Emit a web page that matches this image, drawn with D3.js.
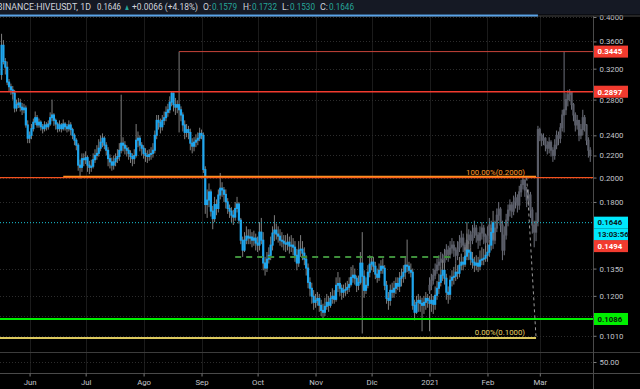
<!DOCTYPE html>
<html><head><meta charset="utf-8">
<script src="https://cdn.jsdelivr.net/npm/d3@7"></script>
<style>
html,body{margin:0;padding:0;background:#000;overflow:hidden;}
svg{display:block;}
text{font-family:Roboto,"Open Sans",sans-serif;}
</style></head><body>
<svg id="c" width="640" height="389"></svg>
<script>
// ---------------- DATA ----------------
const firstDate = "2020-05-17";
const firstOpen = 0.312;
const closes = [
0.354,0.330,0.322,0.302,0.296,0.292,0.288,0.270,0.274,0.276,0.271,0.268,0.270,0.251,0.237,
0.240,0.247,0.254,0.259,0.251,0.254,0.249,0.247,0.251,0.249,0.252,0.259,0.262,0.256,0.252,0.247,0.251,0.247,0.252,0.249,0.247,0.251,0.246,0.240,0.235,0.230,0.211,0.209,0.217,0.216,
0.218,0.211,0.209,0.210,0.216,0.220,0.222,0.227,0.233,0.237,0.230,0.225,0.217,0.214,0.211,0.214,0.217,0.219,0.225,0.232,0.230,0.227,0.225,0.222,0.219,0.217,0.220,0.235,0.237,0.230,0.227,
0.222,0.220,0.219,0.221,0.222,0.225,0.240,0.256,0.254,0.249,0.256,0.259,0.265,0.268,0.277,0.288,0.274,0.271,0.274,0.268,0.262,0.251,0.243,0.246,0.243,0.232,0.229,0.233,0.235,0.237,0.242,
0.240,0.207,0.178,0.1815,0.188,0.173,0.1675,0.178,0.175,0.1855,0.191,0.1895,0.186,0.180,0.175,0.173,0.170,0.1686,0.175,0.1784,0.1664,0.1526,0.1462,0.1526,0.1553,0.154,0.1547,0.1526,0.154,0.1507,
0.1494,0.158,0.1526,0.1383,0.1353,0.1406,0.143,0.1494,0.1574,0.1594,0.1567,0.1553,0.1526,0.152,0.1507,0.15,0.1513,0.1488,0.1494,0.1481,0.143,0.1383,0.1462,0.1468,0.1443,0.1406,0.1353,0.1272,0.124,0.1198,0.1167,
0.1177,0.1187,0.1152,0.1127,0.1118,0.1147,0.1167,0.1152,0.1187,0.1198,0.1182,0.1256,0.1266,0.124,0.1219,0.1229,0.1234,0.1245,0.1261,0.13,0.1312,0.1295,0.1256,0.1272,0.1382,0.1306,0.1229,0.1256,0.1329,0.1376,
0.1388,0.1364,0.1318,0.13,0.134,0.1364,0.1352,0.1256,0.1187,0.1177,0.1229,0.1219,0.124,0.1266,0.1251,0.1295,0.1306,0.1329,0.137,0.1364,0.134,0.1329,0.1152,0.1118,0.1167,0.1177,0.1162,0.1152,0.1167,0.1187,0.1177,
0.1162,0.1177,0.1157,0.1203,0.124,0.1272,0.1312,0.134,0.1295,0.1219,0.1208,0.1284,0.13,0.1306,0.1329,0.1323,0.137,0.1388,0.1376,0.1424,0.1462,0.1449,0.1406,0.1388,0.137,0.1382,0.1364,0.14,0.1406,0.1412,0.143,
0.1449,0.1494,0.1579,0.1646];
const highs = [
0.372,0.362,0.335,0.33,0.306,0.30,0.297,0.292,0.28,0.282,0.281,0.276,0.275,0.273,0.256,
0.244,0.252,0.258,0.266,0.262,0.258,0.256,0.252,0.255,0.254,0.256,0.265,0.28,0.264,0.258,0.254,0.256,0.253,0.257,0.254,0.252,0.256,0.254,0.248,0.242,0.237,0.232,0.216,0.222,0.222,
0.224,0.22,0.215,0.216,0.222,0.226,0.23,0.236,0.24,0.242,0.239,0.233,0.228,0.221,0.218,0.22,0.222,0.226,0.232,0.286,0.238,0.234,0.23,0.228,0.225,0.222,0.226,0.252,0.244,0.24,0.233,
0.23,0.227,0.225,0.226,0.228,0.232,0.245,0.262,0.262,0.258,0.262,0.266,0.272,0.275,0.284,0.2897,0.2885,0.282,0.279,0.3445,0.272,0.265,0.256,0.252,0.25,0.247,0.237,0.238,0.241,0.243,0.248,
0.246,0.243,0.21,0.19,0.195,0.19,0.177,0.184,0.182,0.19,0.204,0.196,0.192,0.19,0.183,0.178,0.176,0.174,0.18,0.184,0.18,0.168,0.155,0.158,0.162,0.16,0.16,0.158,0.159,0.157,
0.155,0.165,0.168,0.158,0.142,0.145,0.148,0.155,0.162,0.17,0.164,0.162,0.16,0.158,0.156,0.156,0.157,0.155,0.156,0.154,0.152,0.147,0.152,0.156,0.152,0.148,0.143,0.138,0.13,0.127,0.123,
0.121,0.122,0.121,0.118,0.116,0.119,0.121,0.12,0.122,0.124,0.123,0.13,0.133,0.13,0.126,0.126,0.127,0.128,0.13,0.136,0.137,0.135,0.131,0.131,0.145,0.158,0.134,0.13,0.137,0.143,
0.142,0.142,0.139,0.135,0.138,0.14,0.141,0.137,0.128,0.122,0.126,0.127,0.128,0.13,0.13,0.133,0.135,0.137,0.142,0.153,0.139,0.138,0.135,0.118,0.12,0.121,0.12,0.119,0.12,0.122,0.121,
0.12,0.121,0.12,0.125,0.128,0.132,0.136,0.14,0.138,0.132,0.125,0.131,0.134,0.136,0.138,0.137,0.142,0.144,0.142,0.148,0.165,0.152,0.148,0.145,0.142,0.143,0.142,0.146,0.148,0.147,0.149,
0.15,0.153,0.161,0.1732];
const lows = [
0.305,0.326,0.312,0.298,0.29,0.286,0.28,0.265,0.266,0.27,0.266,0.262,0.264,0.248,0.232,
0.232,0.236,0.244,0.251,0.248,0.248,0.245,0.242,0.244,0.245,0.246,0.25,0.255,0.25,0.246,0.243,0.244,0.243,0.245,0.245,0.243,0.244,0.24,0.236,0.23,0.225,0.206,0.199,0.205,0.21,
0.212,0.205,0.203,0.205,0.208,0.213,0.216,0.219,0.224,0.228,0.226,0.22,0.21,0.208,0.206,0.207,0.21,0.213,0.215,0.222,0.224,0.221,0.219,0.216,0.213,0.21,0.212,0.218,0.228,0.224,0.22,
0.217,0.214,0.213,0.215,0.216,0.218,0.222,0.236,0.246,0.242,0.245,0.251,0.255,0.26,0.264,0.272,0.266,0.262,0.264,0.243,0.255,0.244,0.236,0.238,0.236,0.225,0.222,0.224,0.228,0.23,0.234,
0.236,0.204,0.171,0.168,0.176,0.169,0.16,0.165,0.17,0.172,0.182,0.184,0.18,0.175,0.171,0.168,0.165,0.163,0.166,0.172,0.164,0.15,0.142,0.145,0.15,0.15,0.15,0.148,0.149,0.146,
0.145,0.146,0.15,0.134,0.131,0.133,0.138,0.14,0.146,0.152,0.153,0.151,0.149,0.148,0.146,0.145,0.146,0.144,0.145,0.143,0.139,0.134,0.136,0.142,0.14,0.137,0.131,0.124,0.12,0.116,0.113,
0.114,0.115,0.112,0.11,0.109,0.11,0.113,0.112,0.114,0.116,0.116,0.117,0.122,0.12,0.118,0.119,0.12,0.121,0.122,0.125,0.127,0.126,0.122,0.123,0.126,0.102,0.119,0.121,0.124,0.13,
0.134,0.133,0.129,0.127,0.128,0.132,0.132,0.123,0.116,0.113,0.115,0.119,0.119,0.121,0.123,0.122,0.125,0.127,0.129,0.133,0.132,0.13,0.113,0.108,0.111,0.112,0.112,0.103,0.111,0.113,0.114,
0.103,0.112,0.111,0.113,0.118,0.121,0.125,0.128,0.126,0.118,0.116,0.118,0.125,0.126,0.128,0.129,0.13,0.134,0.134,0.136,0.14,0.14,0.137,0.135,0.133,0.134,0.133,0.134,0.137,0.137,0.139,
0.139,0.142,0.146,0.153];

// projected (greyed) bars pattern
const ghostStart = "2021-01-01";
const ghostOpen = 0.123;
const ghostCloses = [
0.1256,0.1284,0.1312,0.134,0.137,0.1388,0.1406,0.1388,0.143,0.1462,0.1436,0.1475,0.1494,0.1462,0.143,0.1475,0.1513,0.154,0.1494,0.1462,
0.1526,0.156,0.1526,0.158,0.1608,0.156,0.1526,0.1574,0.1608,0.1553,0.1513,0.156,0.1629,0.1594,0.1526,0.1608,0.17,0.1745,0.1629,0.1462,
0.156,0.1664,0.1738,0.1776,0.173,0.18,0.1832,0.1776,0.188,0.194,0.198,0.1895,0.1815,0.1855,0.1738,0.1629,0.158,0.1655,0.246,0.240,
0.235,0.237,0.230,0.227,0.233,0.225,0.220,0.230,0.240,0.237,0.248,0.262,0.268,0.280,0.286,0.289,0.274,0.262,0.251,0.256,
0.240,0.246,0.259,0.251,0.235,0.225,0.220];
const ghostHighs = [
0.130,0.132,0.135,0.138,0.141,0.143,0.145,0.144,0.147,0.15,0.149,0.152,0.154,0.152,0.148,0.152,0.156,0.159,0.157,0.151,
0.157,0.16,0.159,0.163,0.166,0.163,0.158,0.162,0.165,0.163,0.157,0.162,0.168,0.166,0.16,0.166,0.175,0.18,0.176,0.166,
0.162,0.171,0.178,0.182,0.18,0.185,0.188,0.186,0.193,0.198,0.2,0.198,0.192,0.19,0.188,0.176,0.166,0.172,0.25,0.248,
0.242,0.242,0.238,0.234,0.238,0.235,0.228,0.236,0.245,0.244,0.253,0.268,0.3445,0.288,0.292,0.293,0.29,0.276,0.265,0.262,
0.256,0.252,0.268,0.262,0.252,0.238,0.228];
const ghostLows = [
0.121,0.123,0.126,0.129,0.132,0.134,0.136,0.135,0.137,0.14,0.139,0.141,0.144,0.142,0.138,0.14,0.145,0.148,0.145,0.141,
0.144,0.15,0.148,0.15,0.154,0.151,0.147,0.149,0.153,0.15,0.146,0.148,0.153,0.155,0.147,0.15,0.158,0.166,0.158,0.14,
0.143,0.153,0.162,0.169,0.168,0.17,0.175,0.172,0.174,0.184,0.19,0.184,0.176,0.177,0.168,0.157,0.148,0.152,0.162,0.234,
0.229,0.23,0.224,0.221,0.222,0.219,0.214,0.216,0.226,0.23,0.232,0.244,0.243,0.262,0.272,0.278,0.268,0.255,0.244,0.246,
0.234,0.236,0.24,0.244,0.23,0.218,0.214];

const monthTicks = ["2020-06-01","2020-07-01","2020-08-01","2020-09-01","2020-10-01","2020-11-01","2020-12-01","2021-01-01","2021-02-01","2021-03-01"];
const monthLabels = ["Jun","Jul","Ago","Sep","Oct","Nov","Dic","2021","Feb","Mar"];
const priceTicks = [0.4,0.36,0.32,0.28,0.24,0.22,0.2,0.18,0.135,0.12,0.11,0.101];

// drawings
const levelHigh = 0.3445, levelHighStart = "2020-08-20";
const levelTop = 0.2897;
const levelFib100 = 0.2, levelFib0 = 0.1;
const fib100Start = "2020-06-19", fibEnd = "2021-02-27", fibP1 = "2021-02-22";
const levelTopBlue = 0.402, topBlueEnd = "2021-02-28";
const levelGreen = 0.1086;
const lastPrice = 0.1646, redTag = 0.1494;
const dashLevel = 0.142, dashStart = "2020-09-19", dashEnd = "2021-01-13";

// ---------------- CHART ----------------
const svg = d3.select("#c");
const W = 640, H = 389, AX = 593.5, PANE_TOP = 16, PANE_BOT = 352;
const x = d3.scaleUtc().domain([new Date("2020-06-01"), new Date("2021-03-01")]).range([29.6, 539.8]);
const y = d3.scaleLog().domain([0.1, 0.4]).range([338.1, 17]);
const DAY = 864e5;
const D = s => new Date(s);

function build(start, open0, cl, hi, lo){
  const t0 = Date.parse(start);
  return cl.map((c,i)=>{const o = i ? cl[i-1] : open0;
    return {date:new Date(t0+i*DAY), o, c, h:Math.max(hi[i],o,c), l:Math.min(lo[i],o,c)};});
}
const candles = build(firstDate, firstOpen, closes, highs, lows);
const ghost = build(ghostStart, ghostOpen, ghostCloses, ghostHighs, ghostLows);

svg.append("rect").attr("width",W).attr("height",H).attr("fill","#000");
const defs = svg.append("defs");
defs.append("clipPath").attr("id","pc").append("rect").attr("x",0).attr("y",PANE_TOP).attr("width",AX).attr("height",PANE_BOT-PANE_TOP);

// grid
const grid = svg.append("g");
grid.selectAll("line.v").data(monthTicks).join("line")
  .attr("x1",d=>Math.round(x(D(d)))+0.5).attr("x2",d=>Math.round(x(D(d)))+0.5)
  .attr("y1",PANE_TOP).attr("y2",373).attr("stroke","#1b1b1b").attr("stroke-width",1);
grid.selectAll("line.h").data(priceTicks).join("line")
  .attr("x1",0).attr("x2",AX).attr("y1",d=>Math.round(y(d))+0.5).attr("y2",d=>Math.round(y(d))+0.5)
  .attr("stroke","#2c2c2c").attr("stroke-dasharray","1,2");

const plot = svg.append("g").attr("clip-path","url(#pc)");
const BW = 2.2;
function drawCandles(data, wickColor, bodyColor, minH){
  const g = plot.append("g");
  g.selectAll("line").data(data).join("line")
    .attr("x1",d=>x(d.date)).attr("x2",d=>x(d.date))
    .attr("y1",d=>y(d.h)).attr("y2",d=>y(d.l))
    .attr("stroke",wickColor).attr("stroke-width",1);
  g.selectAll("rect").data(data).join("rect")
    .attr("x",d=>x(d.date)-BW/2).attr("width",BW)
    .attr("y",d=>Math.min(y(d.o),y(d.c))-0.5)
    .attr("height",d=>Math.max(minH,Math.abs(y(d.o)-y(d.c))+1))
    .attr("fill",bodyColor);
}
drawCandles(ghost, "#6e717c", "#5a5d68", 1.5);
drawCandles(candles, "#7e7e7e", "#1fa6ee", 2);

// horizontal drawings
const hl = (v, x1, x2, color, w, dash) => {
  const l = plot.append("line").attr("x1",x1).attr("x2",x2).attr("y1",y(v)).attr("y2",y(v))
    .attr("stroke",color).attr("stroke-width",w);
  if (dash) l.attr("stroke-dasharray",dash);
  return l;
};
hl(lastPrice, 0, AX, "#19c3d6", 1, "1,2");
hl(dashLevel, x(D(dashStart)), x(D(dashEnd)), "#3f8f3c", 2, "6,5");
hl(levelFib0, 0, x(D(fibEnd)), "#dcc85e", 2);
hl(levelFib100, 0, AX, "#f4511e", 1.2);
plot.append("line").attr("x1",x(D(fib100Start))).attr("x2",x(D(fibEnd)))
  .attr("y1",y(levelFib100)-1).attr("y2",y(levelFib100)-1).attr("stroke","#ff8f1f").attr("stroke-width",1.6);
hl(levelTop, 0, AX, "#f23b2f", 1.4);
hl(levelHigh, x(D(levelHighStart)), AX, "#c8443a", 1);
hl(levelGreen, 0, AX, "#00f000", 2);
plot.append("line").attr("x1",x(D(fibP1))).attr("y1",y(levelFib100))
  .attr("x2",x(D(fibEnd))).attr("y2",y(levelFib0))
  .attr("stroke","#9a9a9a").attr("stroke-width",1).attr("stroke-dasharray","3,3");

// fib labels
plot.append("text").attr("x",x(D(fibEnd))-11).attr("y",y(levelFib100)-3).attr("text-anchor","end")
  .attr("font-size",7.8).attr("fill","#ff9b2a").text("100.00%(0.2000)");
plot.append("text").attr("x",x(D(fibEnd))-11).attr("y",y(levelFib0)-3).attr("text-anchor","end")
  .attr("font-size",7.8).attr("fill","#e8d465").text("0.00%(0.1000)");

// pane separators and axis lines
svg.append("line").attr("x1",0).attr("x2",W).attr("y1",352.5).attr("y2",352.5).attr("stroke","#3c3c3c");
svg.append("line").attr("x1",0).attr("x2",W).attr("y1",373.5).attr("y2",373.5).attr("stroke","#4a4a4a");
svg.append("line").attr("x1",AX).attr("x2",AX).attr("y1",PANE_TOP).attr("y2",H).attr("stroke","#4a4a4a");
svg.append("line").attr("x1",0).attr("x2",AX).attr("y1",362.5).attr("y2",362.5).attr("stroke","#2c2c2c").attr("stroke-dasharray","1,2");

// price axis
const yAxis = d3.axisRight(y).tickValues(priceTicks).tickFormat(d3.format(".4f")).tickSize(3).tickPadding(3);
const ga = svg.append("g").attr("transform",`translate(${AX},0)`).call(yAxis);
ga.select(".domain").remove();
ga.selectAll("line").attr("stroke","#7a7a7a");
ga.selectAll("text").attr("fill","#c3c5cc").attr("font-size",7.8).attr("font-family","Roboto, sans-serif");
// lower pane label
svg.append("line").attr("x1",AX).attr("x2",AX+3).attr("y1",362.5).attr("y2",362.5).attr("stroke","#7a7a7a");
svg.append("text").attr("x",AX+6).attr("y",365).attr("font-size",7.8).attr("fill","#c3c5cc").text("50.00");

// time axis
const xAxis = d3.axisBottom(x).tickValues(monthTicks.map(D)).tickFormat((d,i)=>monthLabels[i]).tickSize(3).tickPadding(3);
const gx = svg.append("g").attr("transform","translate(0,373.5)").call(xAxis);
gx.select(".domain").remove();
gx.selectAll("line").attr("stroke","#7a7a7a");
gx.selectAll("text").attr("fill","#c3c5cc").attr("font-size",7.8).attr("font-family","Roboto, sans-serif");

// price tags
function tag(yc, label, bg, fg){
  svg.append("rect").attr("x",594).attr("y",yc-6).attr("width",34).attr("height",12).attr("fill",bg);
  svg.append("text").attr("x",597.5).attr("y",yc+2.8).attr("font-size",7.8).attr("font-weight","bold")
    .attr("fill",fg).text(label);
}
const f4 = d3.format(".4f");
tag(y(levelHigh), f4(levelHigh), "#f23b2f", "#ffffff");
tag(y(levelTop), f4(levelTop), "#f23b2f", "#ffffff");
tag(y(lastPrice), f4(lastPrice), "#00e8fc", "#0b1a22");
tag(y(lastPrice)+12, "13:03:56", "#00e8fc", "#0b1a22");
tag(y(redTag)+1, f4(redTag), "#f23b2f", "#ffffff");
tag(y(levelGreen), f4(levelGreen), "#00f000", "#0b1a0b");

// header
svg.append("rect").attr("x",0).attr("y",0).attr("width",W).attr("height",14.5).attr("fill","#151924");
svg.append("line").attr("x1",0).attr("x2",W).attr("y1",16).attr("y2",16).attr("stroke","#4a4a4a");
svg.append("line").attr("x1",0).attr("x2",x(D(topBlueEnd))).attr("y1",15.5).attr("y2",15.5)
  .attr("stroke","#5aa3e8").attr("stroke-width",2);
const L = "#d1d4dc", T = "#26a69a";
const headerParts = [
  ["BINANCE:HIVEUSDT, 1D",L,-3,94],["0.1646",L,97,24],["▲",T,124,6],["+0.0066 (+4.18%)",L,132,66],
  ["O:",L,203,8],["0.1579",T,212,25],["H:",L,243,8],["0.1732",T,252,25],
  ["L:",L,282,7],["0.1530",T,290,25],["C:",L,320,8],["0.1646",T,329,25]];
headerParts.forEach(([s,c,px,len])=>{
  svg.append("text").attr("x",px).attr("y",10).attr("font-size",8.6).attr("fill",c)
    .attr("textLength",len).attr("lengthAdjust","spacingAndGlyphs").text(s);
});
</script>
</body></html>
